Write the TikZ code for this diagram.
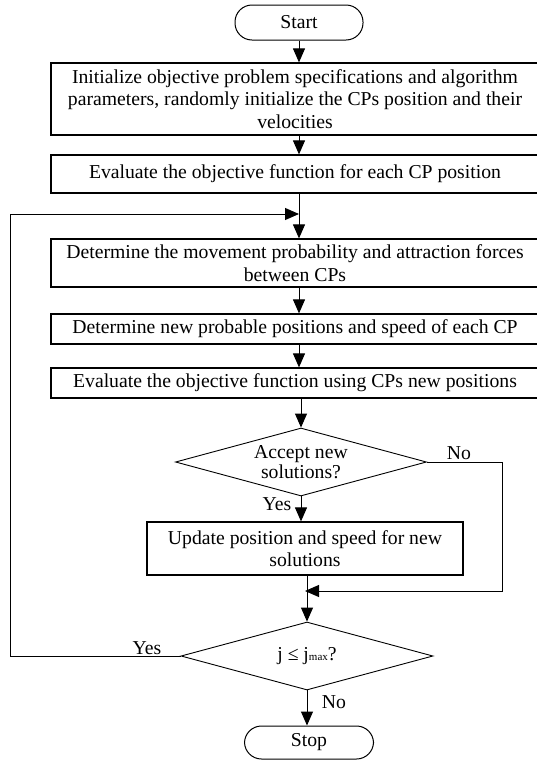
\documentclass[tikz,border=0pt]{standalone}
\usepackage{fontspec}
\setmainfont{Liberation Serif}
\usetikzlibrary{shapes.geometric,arrows.meta}

\begin{document}
\begin{tikzpicture}[x=1pt,y=-1pt,
  every node/.style={font=\fontsize{19.7}{22.5}\selectfont},
  proc/.style={draw, line width=1.2pt, inner sep=0pt, align=center},
  term/.style={draw, line width=1pt, rounded corners=17pt, inner sep=0pt},
  dec/.style={draw, diamond, line width=0.9pt, aspect=3.7, inner sep=-5pt, align=center,
              font=\fontsize{19.7}{20}\selectfont},
  flow/.style={line width=1pt},
  arr/.style={flow, -{Triangle[length=14pt,width=12pt]}},
  lbl/.style={inner sep=0pt}]
\useasboundingbox (0,0) rectangle (537,761);

% terminals
\node[term, minimum width=128pt, minimum height=35pt] (start) at (299,22.5) {Start};
\node[term, minimum width=129pt, minimum height=33pt] (stop) at (309,742.5) {Stop};

% process boxes
\node[proc, minimum width=488pt, minimum height=72pt] (b1) at (295,99)
  {Initialize objective problem specifications and algorithm\\
   parameters, randomly initialize the CPs position and their\\
   velocities};
\node[proc, minimum width=488pt, minimum height=38pt] (b2) at (295,174)
  {Evaluate the objective function for each CP position};
\node[proc, minimum width=488pt, minimum height=48pt] (b3) at (295,263)
  {Determine the movement probability and attraction forces\\ between CPs};
\node[proc, minimum width=488pt, minimum height=30pt] (b4) at (295,329)
  {Determine new probable positions and speed of each CP};
\node[proc, minimum width=488pt, minimum height=30pt] (b5) at (295,383)
  {Evaluate the objective function using CPs new positions};
\node[proc, minimum width=316pt, minimum height=53pt] (b6) at (305,548.5)
  {Update position and speed for new\\ solutions};

% decisions
\node[dec, minimum width=251pt, minimum height=68pt] (d1) at (301,462)
  {Accept new\\ solutions?};
\node[dec, minimum width=252pt, minimum height=68pt] (d2) at (307,656)
  {j ≤ j{\fontsize{11}{12}\selectfont max}?};

% branch labels
\node[lbl] (no1) at (459,453) {No};
\node[lbl] (yes1) at (277,504) {Yes};
\node[lbl] (yes2) at (147,648) {Yes};
\node[lbl] (no2) at (334,702) {No};

% bends of the return paths
\coordinate (nr) at (502,591);
\coordinate (yl) at (10,214);

% main flow
\draw[arr] (start.south) -- (start.south |- b1.north);
\draw[arr] (b1.south -| start) -- (b2.north -| start);
\draw[arr] (b2.south -| start) -- (b3.north -| start);
\draw[arr] (b3.south -| start) -- (b4.north -| start);
\draw[arr] (b4.south -| start) -- (b5.north -| start);
\draw[arr] (b5.south -| d1.north) -- (d1.north);
\draw[arr] (d1.south) -- (d1.south |- b6.north);
\draw[arr] (b6.south -| d2.north) -- (d2.north);
\draw[arr] (d2.south) -- (d2.south |- stop.north);

% "No" path of the first decision
\draw[arr] (d1.east) -| (nr) -- (nr -| b6.south);
% "Yes" loop of the second decision
\draw[arr] (d2.west) -| (yl) -- (yl -| start);
\end{tikzpicture}
\end{document}
